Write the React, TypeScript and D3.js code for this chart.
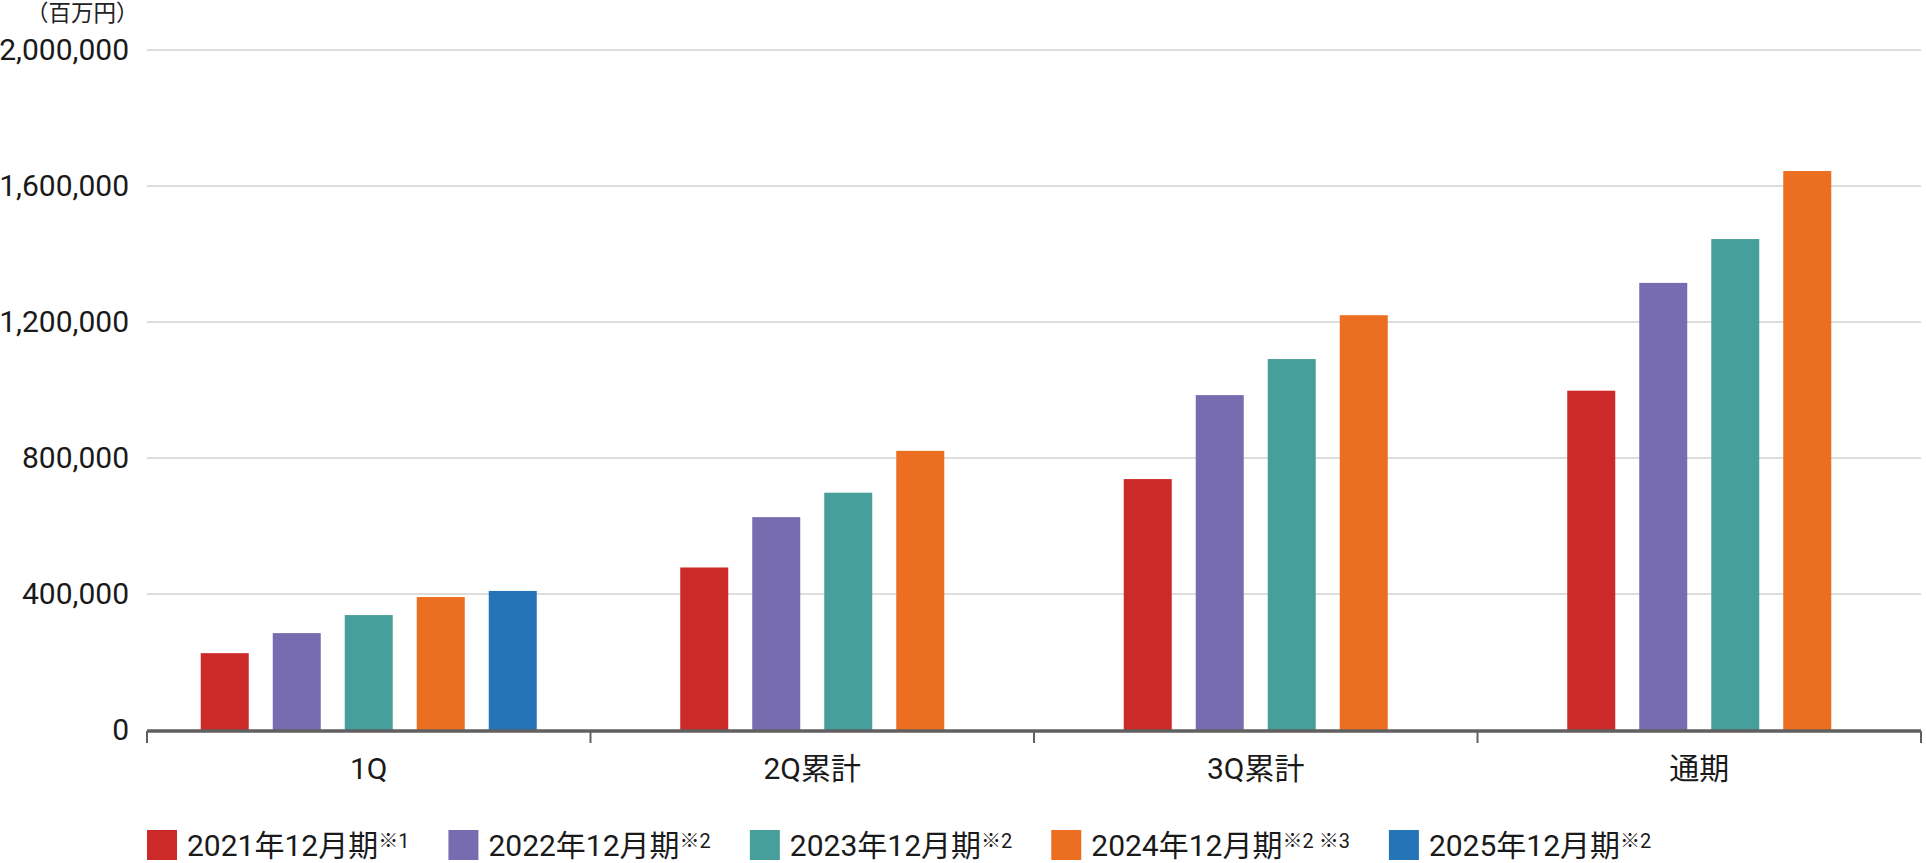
import { useEffect, useRef } from 'react';
import * as d3 from 'd3';

const categories = ['1Q', '2Q累計', '3Q累計', '通期'];
const seriesNames = ['2021年12月期', '2022年12月期', '2023年12月期', '2024年12月期', '2025年12月期'];
const seriesNotes = ['※1', '※2', '※2', '※2 ※3', '※2'];
const seriesColors = ['#cc2a28', '#786cb0', '#479f9c', '#ec6e20', '#2574b8'];
// values in 百万円, one array per fiscal year (null = not yet reported)
const fy2021 = [226000, 478000, 738000, 998000];
const fy2022 = [285000, 626000, 985000, 1315000];
const fy2023 = [338000, 698000, 1091000, 1444000];
const fy2024 = [391000, 821000, 1220000, 1644000];
const fy2025 = [409000, null, null, null];
const yTicks = [0, 400000, 800000, 1200000, 1600000, 2000000];
const unitLabel = '（百万円）';

const FONT = "Roboto, 'Noto Sans CJK JP', sans-serif";

const App = () => {
  const svgRef = useRef<SVGSVGElement>(null!);

  useEffect(() => {
    document.body.style.margin = '0';
    const width = 1926;
    const height = 863;
    const left = 147;
    const right = 1921;
    const top = 50;
    const bottom = 730;
    const barW = 48;
    const barStep = 72;

    const series = [fy2021, fy2022, fy2023, fy2024, fy2025];

    const svg = d3
      .select(svgRef.current)
      .attr('width', width)
      .attr('height', height)
      .style('display', 'block')
      .style('font-family', FONT);

    const x = d3.scaleBand().domain(categories).range([left, right]).padding(0);
    const y = d3.scaleLinear().domain([0, 2000000]).range([bottom, top]);

    // unit label
    svg
      .append('text')
      .attr('x', 26)
      .attr('y', 21)
      .attr('font-size', 22.5)
      .attr('fill', '#222')
      .text(unitLabel);

    // gridlines
    svg
      .append('g')
      .selectAll('line')
      .data(yTicks.filter(d => d > 0))
      .enter()
      .append('line')
      .attr('x1', left)
      .attr('x2', right)
      .attr('y1', d => y(d))
      .attr('y2', d => y(d))
      .attr('stroke', '#dddddd')
      .attr('stroke-width', 2);

    // y labels
    svg
      .append('g')
      .selectAll('text')
      .data(yTicks)
      .enter()
      .append('text')
      .attr('x', 129)
      .attr('y', d => y(d) + 10)
      .attr('text-anchor', 'end')
      .attr('font-size', 30)
      .attr('fill', '#1a1a1a')
      .text(d => d3.format(',')(d));

    // bars, centred on each category with the reported series only
    categories.forEach((cat, ci) => {
      const present = series
        .map((s, si) => ({ v: s[ci], si }))
        .filter(d => d.v != null) as { v: number; si: number }[];
      const groupW = present.length * barStep - (barStep - barW);
      const cx = (x(cat) ?? 0) + x.bandwidth() / 2;
      const start = cx - groupW / 2;
      svg
        .append('g')
        .selectAll('rect')
        .data(present)
        .enter()
        .append('rect')
        .attr('x', (_, i) => start + i * barStep)
        .attr('y', d => y(d.v))
        .attr('width', barW)
        .attr('height', d => y(0) - y(d.v))
        .attr('fill', d => seriesColors[d.si]);
    });

    // x axis line and ticks
    const axisY = bottom + 1;
    svg
      .append('line')
      .attr('x1', left)
      .attr('x2', right)
      .attr('y1', axisY)
      .attr('y2', axisY)
      .attr('stroke', '#606060')
      .attr('stroke-width', 3.4);
    const tickXs = categories.map(c => x(c) ?? 0).concat([right]);
    svg
      .append('g')
      .selectAll('line')
      .data(tickXs)
      .enter()
      .append('line')
      .attr('x1', d => d)
      .attr('x2', d => d)
      .attr('y1', axisY)
      .attr('y2', axisY + 12)
      .attr('stroke', '#606060')
      .attr('stroke-width', 2);

    // category labels
    svg
      .append('g')
      .selectAll('text')
      .data(categories)
      .enter()
      .append('text')
      .attr('x', d => (x(d) ?? 0) + x.bandwidth() / 2)
      .attr('y', 779)
      .attr('text-anchor', 'middle')
      .attr('font-size', 30)
      .attr('fill', '#1a1a1a')
      .text(d => d);

    // legend
    const legend = svg.append('g');
    let lx = 147;
    seriesNames.forEach((name, i) => {
      const g = legend.append('g').attr('transform', `translate(${lx},0)`);
      g.append('rect')
        .attr('x', 0)
        .attr('y', 830)
        .attr('width', 30)
        .attr('height', 30)
        .attr('fill', seriesColors[i]);
      const t = g
        .append('text')
        .attr('x', 40)
        .attr('y', 856)
        .attr('font-size', 30)
        .attr('fill', '#1a1a1a')
        .text(name);
      t.append('tspan')
        .attr('font-size', 20)
        .attr('dy', -8)
        .text(seriesNotes[i]);
      const w = (g.node() as SVGGElement).getBBox().width;
      lx += w + 39;
    });

    return () => {
      svgRef.current.innerHTML = '';
    };
  }, []);

  return <svg ref={svgRef}></svg>;
};

export default App;
